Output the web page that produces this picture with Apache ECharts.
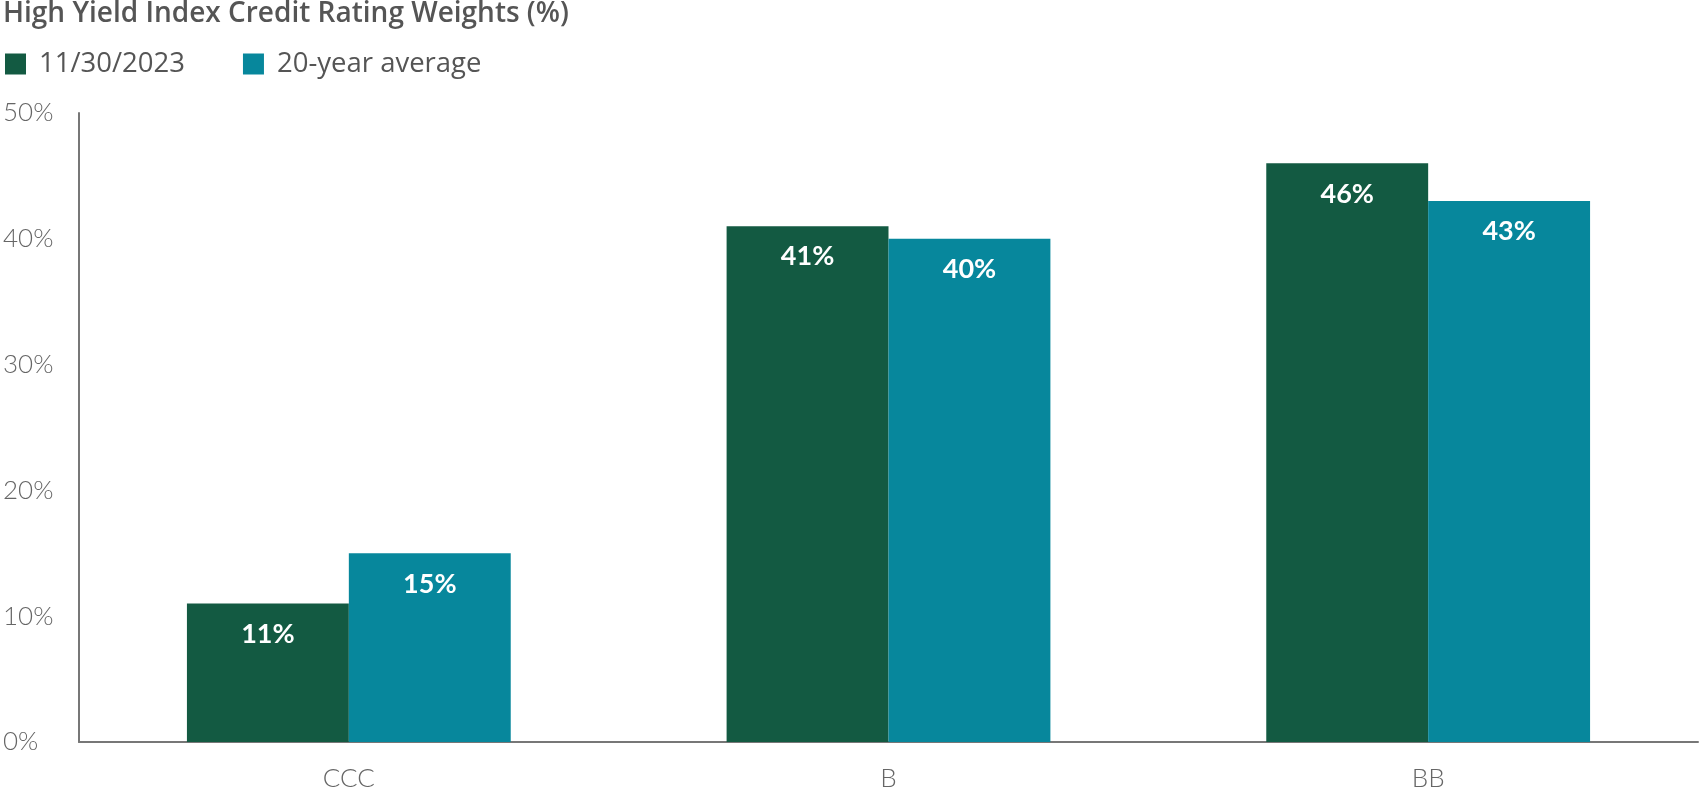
<!DOCTYPE html>
<html lang="en">
<head>
  <meta charset="UTF-8">
  <title>High Yield Index Credit Rating Weights</title>
  <style>
    * { padding: 0; margin: 0; }
    html, body { width: 100%; height: 100%; background: #fff; }
    #chart { width: 1700px; height: 792px; }
  </style>
  <script src="https://cdn.jsdelivr.net/npm/echarts@6/dist/echarts.min.js"></script>
</head>
<body>
  <div id="chart"></div>
  <script>
    // data
    var categories = ['CCC', 'B', 'BB'];
    var current = [11, 41, 46];
    var average = [15, 40, 43];
    var seriesNames = ['11/30/2023', '20-year average'];

    var chart = echarts.init(document.getElementById('chart'));
    var barLabel = {
      show: true,
      position: 'insideTop',
      distance: 17,
      color: '#fff',
      fontFamily: 'Lato',
      fontWeight: 'bold',
      fontSize: 27,
      formatter: '{c}%'
    };

    var option = {
      backgroundColor: '#fff',
      animation: false,
      title: {
        text: 'High Yield Index Credit Rating Weights (%)',
        left: -2,
        top: -5,
        textStyle: {
          fontFamily: 'Open Sans',
          fontWeight: 600,
          fontSize: 28,
          color: '#555'
        }
      },
      legend: {
        left: 0,
        top: 45,
        icon: 'rect',
        itemWidth: 21,
        itemHeight: 21,
        itemGap: 58,
        textStyle: {
          fontFamily: 'Open Sans',
          fontSize: 27.5,
          color: '#555',
          padding: [0, 0, 0, 8]
        },
        data: seriesNames
      },
      grid: {
        left: 77,
        right: 2,
        top: 113,
        bottom: 46
      },
      xAxis: {
        type: 'category',
        data: categories,
        axisLine: { lineStyle: { color: '#777', width: 2 } },
        axisTick: { show: false },
        axisLabel: {
          margin: 24,
          fontFamily: 'Lato',
          fontWeight: 300,
          fontSize: 26,
          color: '#666'
        }
      },
      yAxis: {
        type: 'value',
        min: 0,
        max: 50,
        interval: 10,
        axisLine: { show: true, lineStyle: { color: '#777', width: 2 } },
        axisTick: { show: false },
        splitLine: { show: false },
        axisLabel: {
          align: 'left',
          margin: 76,
          fontFamily: 'Lato',
          fontWeight: 300,
          fontSize: 26,
          color: '#666',
          formatter: '{value}%'
        }
      },
      series: [{
        name: seriesNames[0],
        type: 'bar',
        data: current,
        barGap: '0%',
        barCategoryGap: '40%',
        itemStyle: { color: '#135a42' },
        label: barLabel
      }, {
        name: seriesNames[1],
        type: 'bar',
        data: average,
        itemStyle: { color: '#07879c' },
        label: barLabel
      }]
    };
    chart.setOption(option);
  </script>
</body>
</html>
